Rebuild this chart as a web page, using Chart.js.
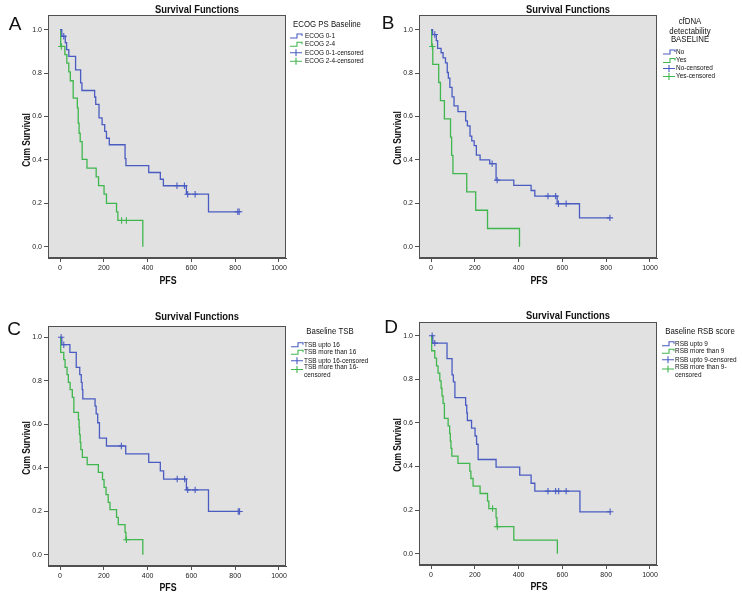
<!DOCTYPE html>
<html>
<head>
<meta charset="utf-8">
<script src="https://cdn.jsdelivr.net/npm/chart.js@4.4.1/dist/chart.umd.min.js"></script>
<style>
  html, body { margin: 0; padding: 0; background: #fff; }
  #wrap { position: relative; width: 742px; height: 596px; }
  #wrap canvas { position: absolute; }
</style>
</head>
<body>
<div id="wrap">
  <canvas id="cA" width="371" height="298" style="left:0;top:0"></canvas>
  <canvas id="cB" width="371" height="298" style="left:371px;top:0"></canvas>
  <canvas id="cC" width="371" height="298" style="left:0;top:298px"></canvas>
  <canvas id="cD" width="371" height="298" style="left:371px;top:298px"></canvas>
</div>
<script>
// axis ticks
const xTicks = [0, 200, 400, 600, 800, 1000];
const yTicks = [0, 0.2, 0.4, 0.6, 0.8, 1.0];

// A - ECOG PS
const aLegendTitle = ['ECOG PS Baseline'];
const aLabels = ['ECOG 0-1', 'ECOG 2-4', 'ECOG 0-1-censored', 'ECOG 2-4-censored'];
const aBlueT = [8, 24, 30, 40, 71, 94, 100, 158, 163, 178, 192, 204, 212, 225, 297, 301, 405, 458, 472, 577, 678];
const aBlueS = [0.970, 0.940, 0.908, 0.877, 0.815, 0.755, 0.720, 0.690, 0.656, 0.594, 0.563, 0.532, 0.500, 0.470, 0.406, 0.374, 0.342, 0.311, 0.281, 0.242, 0.161];
const aBlueCens = [17, 534, 568, 583, 617, 812, 818];
const aGreenT = [3, 22, 31, 40, 47, 60, 79, 83, 87, 92, 101, 123, 165, 176, 201, 212, 258, 264, 378];
const aGreenS = [0.923, 0.885, 0.846, 0.806, 0.765, 0.685, 0.640, 0.570, 0.523, 0.484, 0.403, 0.362, 0.322, 0.282, 0.242, 0.200, 0.161, 0.121, 0];
const aGreenCens = [6, 281, 303];

// B - cfDNA
const bLegendTitle = ['cfDNA', 'detectability', 'BASELINE'];
const bLabels = ['No', 'Yes', 'No-censored', 'Yes-censored'];
const bBlueT = [7, 24, 30, 46, 55, 66, 74, 79, 86, 96, 105, 123, 158, 166, 178, 186, 197, 207, 224, 268, 297, 378, 457, 474, 576, 678];
const bBlueS = [0.978, 0.950, 0.914, 0.894, 0.870, 0.847, 0.803, 0.777, 0.734, 0.691, 0.649, 0.623, 0.580, 0.557, 0.510, 0.488, 0.466, 0.422, 0.400, 0.383, 0.307, 0.283, 0.259, 0.233, 0.198, 0.133];
const bBlueCens = [17, 279, 302, 534, 569, 582, 617, 817];
const bGreenT = [3, 8, 35, 43, 61, 89, 94, 100, 163, 204, 258, 404];
const bGreenS = [0.923, 0.840, 0.757, 0.673, 0.589, 0.505, 0.421, 0.337, 0.253, 0.168, 0.084, 0];
const bGreenCens = [6];

// C - TSB
const cLegendTitle = ['Baseline TSB'];
const cLabels = ['TSB upto 16', 'TSB more than 16', 'TSB upto 16-censored', 'TSB more than 16-\ncensored'];
const cBlueT = [8, 45, 74, 90, 97, 101, 104, 160, 165, 172, 180, 212, 300, 405, 458, 473, 577, 678];
const cBlueS = [0.966, 0.931, 0.862, 0.828, 0.793, 0.759, 0.717, 0.683, 0.648, 0.607, 0.536, 0.500, 0.464, 0.425, 0.386, 0.348, 0.298, 0.199];
const cBlueCens = [5, 17, 280, 535, 569, 583, 617, 814, 820];
const cGreenT = [3, 17, 23, 32, 38, 46, 56, 63, 84, 87, 89, 92, 95, 102, 124, 175, 194, 201, 210, 220, 228, 258, 266, 297, 301, 378];
const cGreenS = [0.931, 0.897, 0.862, 0.828, 0.793, 0.759, 0.724, 0.655, 0.621, 0.586, 0.552, 0.517, 0.483, 0.448, 0.414, 0.379, 0.345, 0.310, 0.276, 0.241, 0.207, 0.172, 0.138, 0.103, 0.069, 0];
const cGreenCens = [303];

// D - RSB
const dLegendTitle = ['Baseline RSB score'];
const dLabels = ['RSB upto 9', 'RSB more than 9', 'RSB upto 9-censored', 'RSB more than 9-\ncensored'];
const dBlueT = [8, 73, 96, 102, 109, 158, 163, 166, 185, 201, 208, 215, 297, 405, 457, 474, 680];
const dBlueS = [0.966, 0.895, 0.820, 0.788, 0.716, 0.681, 0.646, 0.611, 0.576, 0.540, 0.502, 0.432, 0.397, 0.360, 0.323, 0.287, 0.192];
const dBlueCens = [5, 17, 534, 569, 583, 617, 818];
const dGreenT = [3, 17, 25, 32, 40, 46, 50, 55, 61, 78, 85, 88, 91, 95, 123, 177, 182, 192, 224, 258, 264, 297, 301, 378, 577];
const dGreenS = [0.931, 0.897, 0.862, 0.828, 0.793, 0.759, 0.724, 0.690, 0.621, 0.586, 0.552, 0.517, 0.483, 0.448, 0.414, 0.379, 0.345, 0.310, 0.276, 0.241, 0.207, 0.165, 0.124, 0.062, 0];
const dGreenCens = [281, 303];

const BLUE = '#4a5cc2';
const GREEN = '#40b64e';
const FONT = '"Liberation Sans", Arial, sans-serif';

function survAt(T, S, t) {
  let s = 1;
  for (let i = 0; i < T.length; i++) if (T[i] <= t) s = S[i];
  return s;
}

function curvePoints(T, S, cens) {
  const pts = [{x: 0, y: 1}];
  T.forEach((t, i) => pts.push({x: t, y: S[i]}));
  const last = Math.max(...cens);
  if (last > T[T.length - 1]) pts.push({x: last, y: S[S.length - 1]});
  return pts;
}

function txt(ctx, s, x, y, font, align, sx, rot) {
  ctx.save();
  ctx.translate(x, y);
  if (rot) ctx.rotate(rot);
  ctx.scale(sx || 1, 1);
  ctx.font = font;
  ctx.fillStyle = '#111';
  ctx.textAlign = align || 'center';
  ctx.textBaseline = 'middle';
  ctx.fillText(s, 0, 0);
  ctx.restore();
}

function makeDeco(p, legendTitle, labels) {
  return {
    id: 'deco',
    beforeDraw(chart) {
      const a = chart.chartArea, ctx = chart.ctx;
      ctx.save();
      ctx.fillStyle = '#e1e1e1';
      ctx.fillRect(a.left, a.top, a.right - a.left, a.bottom - a.top);
      ctx.restore();
    },
    afterDraw(chart) {
      const a = chart.chartArea, ctx = chart.ctx;
      ctx.save();
      ctx.strokeStyle = '#505050';
      ctx.lineWidth = 1;
      ctx.strokeRect(Math.round(a.left) + 0.5, Math.round(a.top) + 0.5,
                     Math.round(a.right - a.left) - 1, Math.round(a.bottom - a.top) - 1);
      ctx.restore();

      txt(ctx, p.letter, p.letterX, p.letterY, '19px ' + FONT, 'center', 1);
      txt(ctx, 'Survival Functions', 197, p.titleY, 'bold 10px ' + FONT, 'center', 0.94);
      txt(ctx, 'PFS', 168, p.xTitleY, 'bold 11px ' + FONT, 'center', 0.8);
      txt(ctx, 'Cum Survival', 27, p.yTitleY, 'bold 11px ' + FONT, 'center', 0.76, -Math.PI / 2);

      // legend
      const lg = p.legend;
      legendTitle.forEach((t, i) => txt(ctx, t, lg.titleX, lg.titleYs[i], '8.5px ' + FONT, 'center', 0.92));
      const colors = [BLUE, GREEN, BLUE, GREEN];
      labels.forEach((lab, i) => {
        const y = lg.itemYs[i];
        const ix = lg.iconX;
        ctx.save();
        ctx.strokeStyle = colors[i];
        ctx.lineWidth = 1.1;
        ctx.beginPath();
        if (i < 2) {
          ctx.moveTo(ix, y + 2); ctx.lineTo(ix + 7, y + 2); ctx.lineTo(ix + 7, y - 2);
          ctx.lineTo(ix + 12, y - 2); ctx.lineTo(ix + 12, y);
        } else {
          const iy = lab.includes('\n') ? y + 2 : y;
          ctx.moveTo(ix, iy); ctx.lineTo(ix + 12, iy);
          ctx.moveTo(ix + 6, iy - 3.5); ctx.lineTo(ix + 6, iy + 3.5);
        }
        ctx.stroke();
        ctx.restore();
        lab.split('\n').forEach((line, k) =>
          txt(ctx, line, lg.textX, y + k * 7.6, '7px ' + FONT, 'left', 0.92));
      });
    }
  };
}

function makeChart(id, p, legendTitle, labels, blue, green) {
  const groups = [
    {T: blue[0], S: blue[1], C: blue[2], color: BLUE},
    {T: green[0], S: green[1], C: green[2], color: GREEN}
  ];
  const datasets = [];
  groups.forEach((g, i) => datasets.push({
    label: labels[i],
    data: curvePoints(g.T, g.S, g.C),
    showLine: true,
    stepped: 'before',
    borderColor: g.color,
    borderWidth: 1.3,
    pointRadius: 0,
    fill: false
  }));
  groups.forEach((g, i) => datasets.push({
    label: labels[i + 2],
    data: g.C.map(t => ({x: t, y: survAt(g.T, g.S, t)})),
    showLine: false,
    pointStyle: 'cross',
    pointRadius: 3.2,
    borderColor: g.color,
    backgroundColor: g.color,
    borderWidth: 1.1
  }));

  const tickFont = {family: FONT, size: 7};
  new Chart(document.getElementById(id), {
    type: 'scatter',
    data: {datasets},
    options: {
      responsive: false,
      animation: false,
      layout: {padding: {left: 0, right: 371 - p.right, top: p.top, bottom: 0}},
      plugins: {legend: {display: false}, tooltip: {enabled: false}},
      scales: {
        x: {
          type: 'linear', min: -55, max: 1032,
          afterFit: s => { s.height = 298 - p.bottom; },
          afterBuildTicks: s => { s.ticks = xTicks.map(v => ({value: v})); },
          grid: {drawOnChartArea: false, tickLength: 4, color: '#505050'},
          border: {color: '#505050'},
          ticks: {font: tickFont, color: '#222', padding: 2, maxRotation: 0, callback: v => String(v)}
        },
        y: {
          type: 'linear', min: -0.052, max: p.ymax,
          afterFit: s => { s.width = p.left; },
          afterBuildTicks: s => { s.ticks = yTicks.map(v => ({value: v})); },
          grid: {drawOnChartArea: false, tickLength: 4, color: '#505050'},
          border: {color: '#505050'},
          ticks: {font: tickFont, color: '#222', padding: 2, callback: v => v.toFixed(1)}
        }
      }
    },
    plugins: [makeDeco(p, legendTitle, labels)]
  });
}

makeChart('cA', {
  left: 48, right: 286, top: 15, bottom: 258, ymax: 1.068,
  letter: 'A', letterX: 15, letterY: 25, titleY: 10, xTitleY: 281, yTitleY: 140,
  legend: {titleX: 327, titleYs: [25], iconX: 290, textX: 305, itemYs: [36, 44.3, 52.7, 61.3]}
}, aLegendTitle, aLabels, [aBlueT, aBlueS, aBlueCens], [aGreenT, aGreenS, aGreenCens]);

makeChart('cB', {
  left: 48, right: 286, top: 15, bottom: 258, ymax: 1.068,
  letter: 'B', letterX: 17, letterY: 24, titleY: 10, xTitleY: 281, yTitleY: 138,
  legend: {titleX: 319, titleYs: [22, 31.5, 40], iconX: 292, textX: 305, itemYs: [52, 60.5, 68.5, 76.5]}
}, bLegendTitle, bLabels, [bBlueT, bBlueS, bBlueCens], [bGreenT, bGreenS, bGreenCens]);

makeChart('cC', {
  left: 48, right: 286, top: 28, bottom: 268, ymax: 1.052,
  letter: 'C', letterX: 14, letterY: 32, titleY: 19, xTitleY: 290, yTitleY: 150,
  legend: {titleX: 330, titleYs: [33.3], iconX: 291, textX: 304, itemYs: [46.7, 54.3, 62.7, 69.5]}
}, cLegendTitle, cLabels, [cBlueT, cBlueS, cBlueCens], [cGreenT, cGreenS, cGreenCens]);

makeChart('cD', {
  left: 48, right: 286, top: 24, bottom: 267, ymax: 1.063,
  letter: 'D', letterX: 20, letterY: 30, titleY: 18, xTitleY: 289, yTitleY: 147,
  legend: {titleX: 329, titleYs: [33.3], iconX: 291, textX: 304, itemYs: [45.7, 53.3, 61.7, 69]}
}, dLegendTitle, dLabels, [dBlueT, dBlueS, dBlueCens], [dGreenT, dGreenS, dGreenCens]);
</script>
</body>
</html>
